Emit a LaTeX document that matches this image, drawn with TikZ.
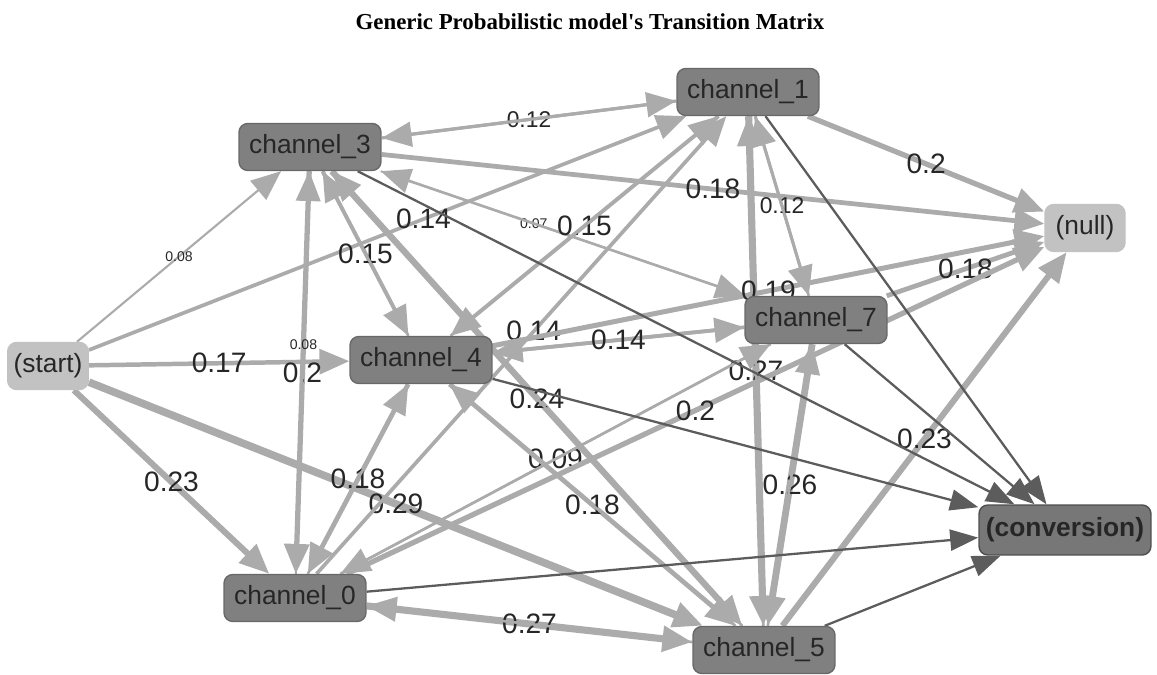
\documentclass[tikz,border=0pt]{standalone}
\usepackage{fontspec}
\setmainfont{Liberation Sans}
\newfontfamily\titlefont{Liberation Serif}
\usetikzlibrary{arrows.meta}
\usetikzlibrary{backgrounds}
\definecolor{chan-gray}{HTML}{808080}
\definecolor{chan-edge}{HTML}{686868}
\definecolor{end-gray}{HTML}{C2C2C2}
\definecolor{conv-gray}{HTML}{777777}
\definecolor{conv-edge}{HTML}{4E4E4E}
\definecolor{edge-gray}{HTML}{ABABAB}
\definecolor{dark-gray}{HTML}{5C5C5C}
\newcommand{\smalllbl}{\fontsize{8}{9}\selectfont}
\newcommand{\midlbl}{\fontsize{13}{15}\selectfont}
\tikzset{
  chan/.style={rectangle, rounded corners=5pt, fill=chan-gray, draw=chan-edge, line width=0.8pt,
    minimum width=2.84cm, minimum height=0.94cm, font=\fontsize{15}{17}\selectfont, text=black!85},
  endpt/.style={chan, fill=end-gray, draw=end-gray, minimum width=1.6cm},
  convbox/.style={chan, fill=conv-gray, draw=conv-edge, minimum width=3.44cm, minimum height=1cm,
    font=\fontsize{15}{17}\selectfont\bfseries},
  edge/.style={draw=edge-gray, -{Triangle[length=17pt,width=14pt]}},
  dark/.style={draw=dark-gray, line width=1.3pt, -{Triangle[length=16pt,width=12pt]}},
  lbl/.style={font=\fontsize{16}{18}\selectfont, text=black!85, inner sep=1pt},
  lpos/.store in=\lblpos, lpos=0.5,
}
% edge from #2 to #3, width from the probability #4, label #5
\newcommand{\tikzedge}[5][]{%
\draw[edge,line width=#4*15pt,#1] (#2) -- (#3) node[pos=\lblpos,lbl] {#5};
}

\begin{document}
\begin{tikzpicture}[x=0.02cm, y=-0.02cm]
\useasboundingbox (0,0) rectangle (1157,675);
\node (title) at (590,22) {\titlefont\bfseries\fontsize{13}{15}\selectfont Generic Probabilistic model's Transition Matrix};
% states
\node[endpt] (start) at (48,366) {(start)};
\node[chan] (ch3) at (310,147) {channel\_3};
\node[chan] (ch1) at (748,92) {channel\_1};
\node[endpt] (null) at (1085,228) {(null)};
\node[chan] (ch7) at (816,320) {channel\_7};
\node[chan] (ch4) at (421,360) {channel\_4};
\node[chan] (ch0) at (295,598) {channel\_0};
\node[chan] (ch5) at (764,650) {channel\_5};
\node[convbox] (conv) at (1065,530) {(conversion)};
\begin{scope}[on background layer]
% from start
\tikzedge{start}{ch3}{0.08}{\smalllbl 0.08}
\tikzedge[lpos=0.56]{start}{ch1}{0.14}{0.14}
\tikzedge{start}{ch4}{0.17}{0.17}
\tikzedge{start}{ch0}{0.23}{0.23}
\tikzedge{start}{ch5}{0.29}{0.29}
% channel_3
\tikzedge{ch3}{ch1}{0.12}{\midlbl 0.12}
\tikzedge{ch1}{ch3}{0.12}{}
\tikzedge{ch3}{null}{0.18}{0.18}
\tikzedge{ch3}{ch4}{0.15}{0.15}
\tikzedge{ch4}{ch3}{0.1}{}
\tikzedge{ch3}{ch0}{0.2}{0.2}
\tikzedge[lpos=0.57]{ch0}{ch3}{0.08}{\smalllbl 0.08}
\tikzedge{ch3}{ch5}{0.24}{0.24}
\tikzedge{ch5}{ch3}{0.1}{}
\tikzedge[lpos=0.42]{ch3}{ch7}{0.07}{\smalllbl 0.07}
\tikzedge{ch7}{ch3}{0.1}{}
% channel_1
\tikzedge{ch1}{null}{0.2}{0.2}
\tikzedge{ch1}{ch7}{0.12}{\midlbl 0.12}
\tikzedge{ch7}{ch1}{0.1}{}
\tikzedge{ch1}{ch4}{0.15}{0.15}
\tikzedge{ch4}{ch1}{0.1}{}
\tikzedge[lpos=0.53]{ch0}{ch1}{0.14}{0.14}
\tikzedge{ch1}{ch5}{0.27}{0.27}
\tikzedge{ch5}{ch1}{0.1}{}
% channel_7 and channel_4
\tikzedge{ch7}{null}{0.18}{0.18}
\tikzedge{ch4}{ch7}{0.14}{}
\tikzedge{ch7}{ch4}{0.14}{0.14}
\tikzedge{ch7}{ch0}{0.09}{0.09}
\tikzedge{ch0}{ch7}{0.1}{}
\tikzedge{ch7}{ch5}{0.26}{0.26}
\tikzedge{ch5}{ch7}{0.1}{}
\tikzedge{ch4}{null}{0.19}{0.19}
\tikzedge{ch4}{ch0}{0.18}{0.18}
\tikzedge{ch0}{ch4}{0.1}{}
\tikzedge{ch4}{ch5}{0.18}{0.18}
\tikzedge{ch5}{ch4}{0.1}{}
% channel_0 and channel_5
\tikzedge{ch0}{null}{0.2}{0.2}
\tikzedge{ch0}{ch5}{0.27}{0.27}
\tikzedge{ch5}{ch0}{0.1}{}
\tikzedge{ch5}{null}{0.23}{0.23}
% into conversion
\tikzedge[dark]{ch3}{conv}{0}{}
\tikzedge[dark]{ch1}{conv}{0}{}
\tikzedge[dark]{ch7}{conv}{0}{}
\tikzedge[dark]{ch4}{conv}{0}{}
\tikzedge[dark]{ch0}{conv}{0}{}
\tikzedge[dark]{ch5}{conv}{0}{}
\end{scope}
\end{tikzpicture}
\end{document}
